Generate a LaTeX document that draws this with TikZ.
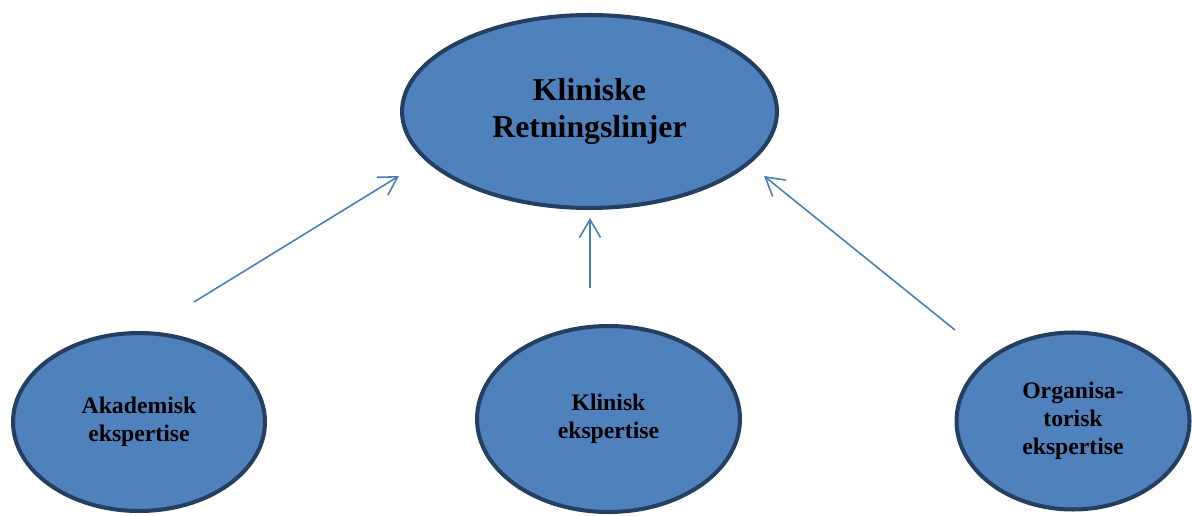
\documentclass[tikz,border=0pt]{standalone}
\usepackage{fontspec}
\setmainfont{Liberation Serif}
\usepackage{tikz}
\usetikzlibrary{arrows.meta}
\usetikzlibrary{shapes.geometric}
\definecolor{ovalfill}{HTML}{4F81BD}
\definecolor{ovaldraw}{HTML}{243F60}
\definecolor{arrowblue}{HTML}{4A7EBB}
\tikzset{
    oval/.style = {shape=ellipse,inner sep=0,fill=ovalfill,draw=ovaldraw,line width=2.3pt,align=center},
    lowered/.style = {execute at begin node={\rule{0pt}{#1}}},
    goal/.style = {oval,lowered=18pt,minimum width=7.5cm,minimum height=3.86cm,font=\fontsize{18.1}{21.5}\selectfont\bfseries},
    field/.style = {oval,lowered=14.5pt,font=\fontsize{13.5}{15.9}\selectfont\bfseries},
    feed/.style = {draw=arrowblue,line width=0.9pt,-{Straight Barb[length=3.6mm,width=4.2mm]}}
}

\begin{document}
\begin{tikzpicture}[x=0.02cm,y=-0.02cm]
    \useasboundingbox (0,0) rectangle (1192,516);
    % Guidelines
    \node[goal] (K) at (589.5,111.5) {Kliniske\\Retningslinjer};
    % Expertise
    \path (139,422) node[field,minimum width=5.04cm,minimum height=3.56cm] (ak) {Akademisk\\ekspertise}
        (608.5,419) node[field,minimum width=5.26cm,minimum height=3.72cm] (kl) {Klinisk\\ekspertise}
        (1073,421) node[field,minimum width=4.66cm,minimum height=3.54cm] (org) {Organisa-\\torisk\\ekspertise}
    ;
    % Arrow ends
    \path (194,302) coordinate (akout)
        (399,176) coordinate (akin)
        (590,288) coordinate (klout)
        (590,218) coordinate (klin)
        (955,330) coordinate (orgout)
        (764,176) coordinate (orgin)
    ;
    \foreach \src/\dest in {akout/akin,klout/klin,orgout/orgin}
        \draw[feed] (\src) to (\dest);
\end{tikzpicture}
\end{document}
